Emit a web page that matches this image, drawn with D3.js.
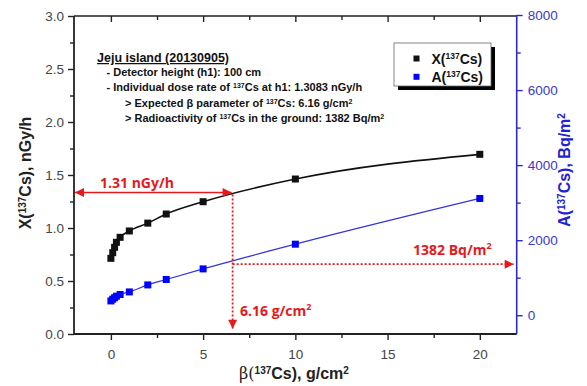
<!DOCTYPE html>
<html><head><meta charset="utf-8">
<script src="https://cdn.jsdelivr.net/npm/d3@7"></script>
<style>
body{margin:0;background:#fff;}
text{font-family:"Liberation Sans",Arial,sans-serif;}
</style></head>
<body><svg id="c" width="587" height="386"></svg>
<script>
// ---- data ----
const beta   = [0, 0.1, 0.2, 0.3, 0.5, 1, 2, 3, 5, 10, 20];
const doseX  = [0.714, 0.767, 0.818, 0.865, 0.912, 0.972, 1.046, 1.132, 1.248, 1.462, 1.695];
const actA   = [381, 427, 467, 507, 552, 621, 808, 952, 1235, 1893, 3112];
const xTicks = [0, 5, 10, 15, 20];
const xMinor = [-2.5, 2.5, 7.5, 12.5, 17.5];
const yLTicks = [0, 0.5, 1.0, 1.5, 2.0, 2.5, 3.0];
const yLMinor = [0.25, 0.75, 1.25, 1.75, 2.25, 2.75];
const yRTicks = [0, 2000, 4000, 6000, 8000];
const yRMinor = [1000, 3000, 5000, 7000];
// annotation positions and labels
const markBeta = 6.6, markX = 1.335, markA = 1360;
const infoLines = [
  ["- Detector height (h1): 100 cm"],
  ["- Individual dose rate of ", "137", "Cs at h1: 1.3083 nGy/h"],
  ["> Expected β parameter of ", "137", "Cs: 6.16 g/cm", "2"],
  ["> Radioactivity of ", "137", "Cs in the ground: 1382 Bq/m", "2"]
];

const svg = d3.select("#c");
const L = 74, R = 516.7, T = 16, B = 334;
const x = d3.scaleLinear([-2, 22], [L, R]);
const yL = d3.scaleLinear([0, 3], [B, T]);
const yR = d3.scaleLinear([-500, 8000], [B, 15]);

const blk = "#222", blue = "#2b2bd0", red = "#e5191c", grey = "#444";

function styleAxis(g, col, lblCol) {
  g.select(".domain").remove();
  g.selectAll(".tick line").attr("stroke", col).attr("stroke-width", 1.4);
  g.selectAll(".tick text").attr("fill", lblCol).style("font-size", "13.5px")
    .style("font-family", "'Liberation Sans',Arial,sans-serif");
}

// left axis
let g = svg.append("g").attr("transform", `translate(${L},0)`)
  .call(d3.axisLeft(yL).tickValues(yLTicks).tickFormat(d3.format(".1f")).tickSize(6).tickPadding(4));
styleAxis(g, blk, grey);
g = svg.append("g").attr("transform", `translate(${L},0)`)
  .call(d3.axisLeft(yL).tickValues(yLMinor).tickFormat("").tickSize(4));
styleAxis(g, blk, grey);

// bottom axis
g = svg.append("g").attr("transform", `translate(0,${B})`)
  .call(d3.axisBottom(x).tickValues(xTicks).tickFormat(d3.format("d")).tickSize(6).tickPadding(9));
styleAxis(g, blk, grey);
g = svg.append("g").attr("transform", `translate(0,${B})`)
  .call(d3.axisBottom(x).tickValues(xMinor.filter(v => v > -2)).tickFormat("").tickSize(4));
styleAxis(g, blk, grey);

// top axis (inward ticks)
g = svg.append("g").attr("transform", `translate(0,${T})`)
  .call(d3.axisBottom(x).tickValues(xTicks).tickFormat("").tickSize(6));
styleAxis(g, blk, grey);
g = svg.append("g").attr("transform", `translate(0,${T})`)
  .call(d3.axisBottom(x).tickValues(xMinor.filter(v => v > -2)).tickFormat("").tickSize(4));
styleAxis(g, blk, grey);

// right axis
g = svg.append("g").attr("transform", `translate(${R},0)`)
  .call(d3.axisRight(yR).tickValues(yRTicks).tickFormat(d3.format("d")).tickSize(6).tickPadding(5));
styleAxis(g, blue, "#3a3ac8");
g = svg.append("g").attr("transform", `translate(${R},0)`)
  .call(d3.axisRight(yR).tickValues(yRMinor).tickFormat("").tickSize(4));
styleAxis(g, blue, blue);

// frame lines
svg.append("line").attr("x1", L).attr("x2", L).attr("y1", T).attr("y2", B).attr("stroke", blk).attr("stroke-width", 1.8);
svg.append("line").attr("x1", L).attr("x2", R).attr("y1", B).attr("y2", B).attr("stroke", blk).attr("stroke-width", 1.8);
svg.append("line").attr("x1", L).attr("x2", R).attr("y1", T).attr("y2", T).attr("stroke", blk).attr("stroke-width", 1.4);
svg.append("line").attr("x1", R).attr("x2", R).attr("y1", 15).attr("y2", B).attr("stroke", blue).attr("stroke-width", 1.6);

// markers
const defs = svg.append("defs");
function mk(id, orient) {
  defs.append("marker").attr("id", id).attr("viewBox", "0 0 10 10").attr("refX", 10).attr("refY", 5)
    .attr("markerWidth", 10).attr("markerHeight", 9).attr("markerUnits", "userSpaceOnUse")
    .attr("orient", orient)
    .append("path").attr("d", "M0,0L10,5L0,10Z").attr("fill", red);
}
mk("arr", "auto"); mk("arrS", "auto-start-reverse");

// curves
const lineX = d3.line().x((d, i) => x(beta[i])).y(d => yL(d)).curve(d3.curveMonotoneX);
const lineA = d3.line().x((d, i) => x(beta[i])).y(d => yR(d)).curve(d3.curveMonotoneX);
svg.append("path").attr("d", lineA(actA)).attr("fill", "none").attr("stroke", "#3535d8").attr("stroke-width", 1.2);
svg.append("path").attr("d", lineX(doseX)).attr("fill", "none").attr("stroke", "#111").attr("stroke-width", 1.6);

// annotations
svg.append("line").attr("x1", x(-2) + 1).attr("x2", x(markBeta) - 1).attr("y1", yL(markX)).attr("y2", yL(markX))
  .attr("stroke", red).attr("stroke-width", 1.6).attr("marker-end", "url(#arr)").attr("marker-start", "url(#arrS)");
svg.append("line").attr("x1", x(markBeta)).attr("x2", x(markBeta)).attr("y1", yL(markX) + 2).attr("y2", yL(0.05))
  .attr("stroke", red).attr("stroke-width", 1.8).attr("stroke-dasharray", "2,2").attr("marker-end", "url(#arr)");
svg.append("line").attr("x1", x(markBeta)).attr("x2", R - 3).attr("y1", yR(markA)).attr("y2", yR(markA))
  .attr("stroke", red).attr("stroke-width", 1.8).attr("stroke-dasharray", "2,2").attr("marker-end", "url(#arr)");

// points
svg.append("g").selectAll("rect").data(actA).join("rect")
  .attr("x", (d, i) => x(beta[i]) - 3.5).attr("y", d => yR(d) - 3.5).attr("width", 7).attr("height", 7).attr("fill", "#0000ff");
svg.append("g").selectAll("rect").data(doseX).join("rect")
  .attr("x", (d, i) => x(beta[i]) - 3.5).attr("y", d => yL(d) - 3.5).attr("width", 7).attr("height", 7).attr("fill", "#111");

// red labels
function supText(sel, parts, supSize) {
  parts.forEach((p, i) => {
    const isSup = (p === "137" || p === "2") && i > 0;
    sel.append("tspan").text(p).style("font-size", isSup ? supSize : null)
      .attr("baseline-shift", isSup ? "super" : null);
  });
  return sel;
}
const redFont = "'Open Sans','Liberation Sans',sans-serif";
svg.append("text").attr("x", 100).attr("y", 188).attr("fill", red).style("font-weight", "bold")
  .style("font-size", "14px").style("font-family", redFont).text("1.31 nGy/h");
supText(svg.append("text").attr("x", 240).attr("y", 316).attr("fill", red).style("font-weight", "bold")
  .style("font-size", "14px").style("font-family", redFont), ["6.16 g/cm", "2"], "9px");
supText(svg.append("text").attr("x", 413).attr("y", 255).attr("fill", red).style("font-weight", "bold")
  .style("font-size", "14px").style("font-family", redFont), ["1382 Bq/m", "2"], "9px");

// info block
svg.append("text").attr("x", 97).attr("y", 62).attr("fill", "#111").style("font-weight", "bold")
  .style("font-size", "12.5px").style("text-decoration", "underline").text("Jeju island (20130905)");
infoLines.forEach((parts, i) => {
  const t = svg.append("text").attr("x", i < 2 ? 106.5 : 125).attr("y", 76 + i * 15.3).attr("fill", "#111")
    .style("font-weight", "bold").style("font-size", "11px");
  supText(t, parts, "7px");
});

// legend
svg.append("rect").attr("x", 398).attr("y", 47).attr("width", 97).attr("height", 43).attr("fill", "#000");
svg.append("rect").attr("x", 394).attr("y", 43).attr("width", 97).attr("height", 43).attr("fill", "#fff")
  .attr("stroke", "#666").attr("stroke-width", 0.8);
const legend = [["X(", "137", "Cs)", "#111"], ["A(", "137", "Cs)", "#0000ff"]];
legend.forEach((d, i) => {
  const yy = 58.5 + i * 18.3;
  svg.append("rect").attr("x", 413.5).attr("y", yy - 3).attr("width", 6).attr("height", 6).attr("fill", d[3]);
  supText(svg.append("text").attr("x", 431.5).attr("y", yy + 5).attr("fill", "#111").style("font-weight", "bold")
    .style("font-size", "14px"), d.slice(0, 3), "8.5px");
});

// axis titles
supText(svg.append("text").attr("transform", "translate(31,173) rotate(-90)").attr("text-anchor", "middle")
  .attr("fill", "#222").style("font-weight", "bold").style("font-size", "16px"), ["X(", "137", "Cs), nGy/h"], "10px");
supText(svg.append("text").attr("transform", "translate(570,170) rotate(-90)").attr("text-anchor", "middle")
  .attr("fill", "#2222d0").style("font-weight", "bold").style("font-size", "16px"), ["A(", "137", "Cs), Bq/m", "2"], "10px");
const bt = svg.append("text").attr("x", 294).attr("y", 379).attr("text-anchor", "middle")
  .attr("fill", "#222").style("font-weight", "bold").style("font-size", "16px");
bt.append("tspan").text("β(").style("font-weight", "normal").style("font-family", "'DejaVu Serif',serif");
supText(bt, ["", "137", "Cs), g/cm", "2"], "10px");
</script></body></html>
